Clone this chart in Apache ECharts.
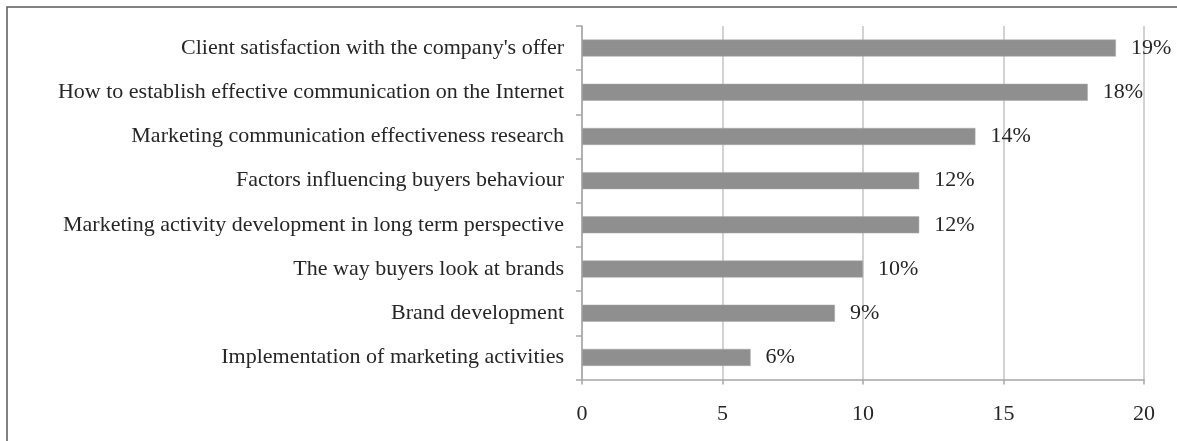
<!DOCTYPE html>
<html>
<head>
<meta charset="utf-8">
<title>Research topics</title>
<script src="https://cdn.jsdelivr.net/npm/echarts@6/dist/echarts.min.js"></script>
<style>
  html, body { margin: 0; padding: 0; background: #ffffff; }
  #chart { width: 1177px; height: 441px; }
</style>
</head>
<body>
<div id="chart"></div>
<script>
// Topics, top to bottom
const categories = [
  "Client satisfaction with the company's offer",
  "How to establish effective communication on the Internet",
  "Marketing communication effectiveness research",
  "Factors influencing buyers behaviour",
  "Marketing activity development in long term perspective",
  "The way buyers look at brands",
  "Brand development",
  "Implementation of marketing activities"
];
// Share of responses, percent
const values = [19, 18, 14, 12, 12, 10, 9, 6];
// Value axis range and step
const axisMin = 0;
const axisMax = 20;
const axisStep = 5;

const FONT = "'Liberation Serif', 'Times New Roman', serif";
const TEXT = '#262626';

const chart = echarts.init(document.getElementById('chart'), null, { renderer: 'canvas' });
chart.setOption({
  animation: false,
  backgroundColor: '#ffffff',
  grid: { left: 582, right: 33, top: 26, bottom: 61.5, containLabel: false },
  xAxis: {
    type: 'value',
    min: axisMin,
    max: axisMax,
    interval: axisStep,
    axisLine: { show: true, lineStyle: { color: '#a6a6a6', width: 1.5 } },
    axisTick: { show: true, length: 5, lineStyle: { color: '#a6a6a6', width: 1.5 } },
    splitLine: { show: true, lineStyle: { color: '#c4c4c4', width: 1.5 } },
    axisLabel: { color: TEXT, fontFamily: FONT, fontSize: 22, margin: 24 }
  },
  yAxis: {
    type: 'category',
    data: categories,
    inverse: true,
    axisLine: { show: true, lineStyle: { color: '#a6a6a6', width: 1.5 } },
    axisTick: { show: true, length: 6, alignWithLabel: false, lineStyle: { color: '#a6a6a6', width: 1.5 } },
    splitLine: { show: false },
    axisLabel: { color: TEXT, fontFamily: FONT, fontSize: 22, margin: 18 }
  },
  series: [{
    type: 'bar',
    data: values,
    barWidth: 17,
    itemStyle: { color: '#8f8f8f', borderColor: '#a8a8a8', borderWidth: 0.5 },
    label: {
      show: true,
      position: 'right',
      distance: 15,
      formatter: '{c}%',
      color: TEXT,
      fontFamily: FONT,
      fontSize: 22
    }
  }],
  graphic: [{
    type: 'rect',
    shape: { x: 7, y: 7, width: 1300, height: 600 },
    style: { fill: 'none', stroke: '#5a5a5a', lineWidth: 1.5 },
    silent: true
  }]
});
</script>
</body>
</html>
